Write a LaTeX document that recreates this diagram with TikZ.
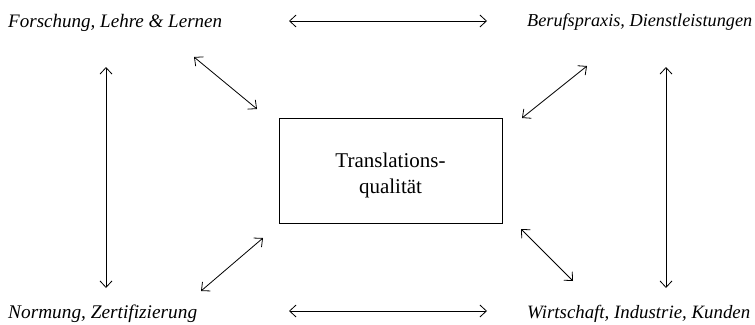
\documentclass[tikz,border=0pt]{standalone}
\usepackage{fontspec}
\setmainfont{Liberation Serif}
\usetikzlibrary{arrows.meta}
\newcommand{\fitlbl}[2]{\resizebox{#1pt}{!}{#2}}
\begin{document}
\begin{tikzpicture}[x=1pt,y=-1pt,
  lbl/.style={anchor=base west,inner sep=0pt,font=\fontsize{19.5}{23}\selectfont\itshape},
  conn/.style={line width=0.8pt,{Straight Barb[length=6.5pt,width=12pt]}-{Straight Barb[length=6.5pt,width=12pt]}},
  boxstyle/.style={draw,line width=0.8pt,minimum width=223pt,minimum height=105pt,inner sep=0pt},
  boxtext/.style={anchor=base,inner sep=0pt,font=\fontsize{21}{26}\selectfont}]
\useasboundingbox (0,0) rectangle (755,324);
% labels
\node[lbl] (fl) at (8,27) {\fitlbl{214}{Forschung, Lehre \& Lernen}};
\node[lbl] (bd) at (527,27) {\fitlbl{225}{Berufspraxis, Dienstleistungen}};
\node[lbl] (nz) at (8,318) {\fitlbl{189}{Normung, Zertifizierung}};
\node[lbl] (wk) at (527,318) {\fitlbl{223}{Wirtschaft, Industrie, Kunden}};
% central box
\node[boxstyle] (box) at (390.5,170.5) {};
\node[boxtext] (t1) at (390.5,167) {Translations-};
\node[boxtext] (t2) at (390.5,193) {qualität};
% endpoints
\coordinate (th1) at (289,21);
\coordinate (th2) at (487,21);
\coordinate (bh1) at (289,311);
\coordinate (bh2) at (487,311);
\coordinate (lv1) at (106,67);
\coordinate (lv2) at (106,288);
\coordinate (rv1) at (666,67);
\coordinate (rv2) at (666,288);
\coordinate (tl1) at (194,57);
\coordinate (tl2) at (257,109);
\coordinate (tr1) at (587,66);
\coordinate (tr2) at (522,118);
\coordinate (bl1) at (263,238);
\coordinate (bl2) at (201,291);
\coordinate (br1) at (521,229);
\coordinate (br2) at (573,281);
% connectors
\draw[conn] (th1) -- (th2);
\draw[conn] (bh1) -- (bh2);
\draw[conn] (lv1) -- (lv2);
\draw[conn] (rv1) -- (rv2);
\draw[conn] (tl1) -- (tl2);
\draw[conn] (tr1) -- (tr2);
\draw[conn] (bl1) -- (bl2);
\draw[conn] (br1) -- (br2);
\end{tikzpicture}
\end{document}
